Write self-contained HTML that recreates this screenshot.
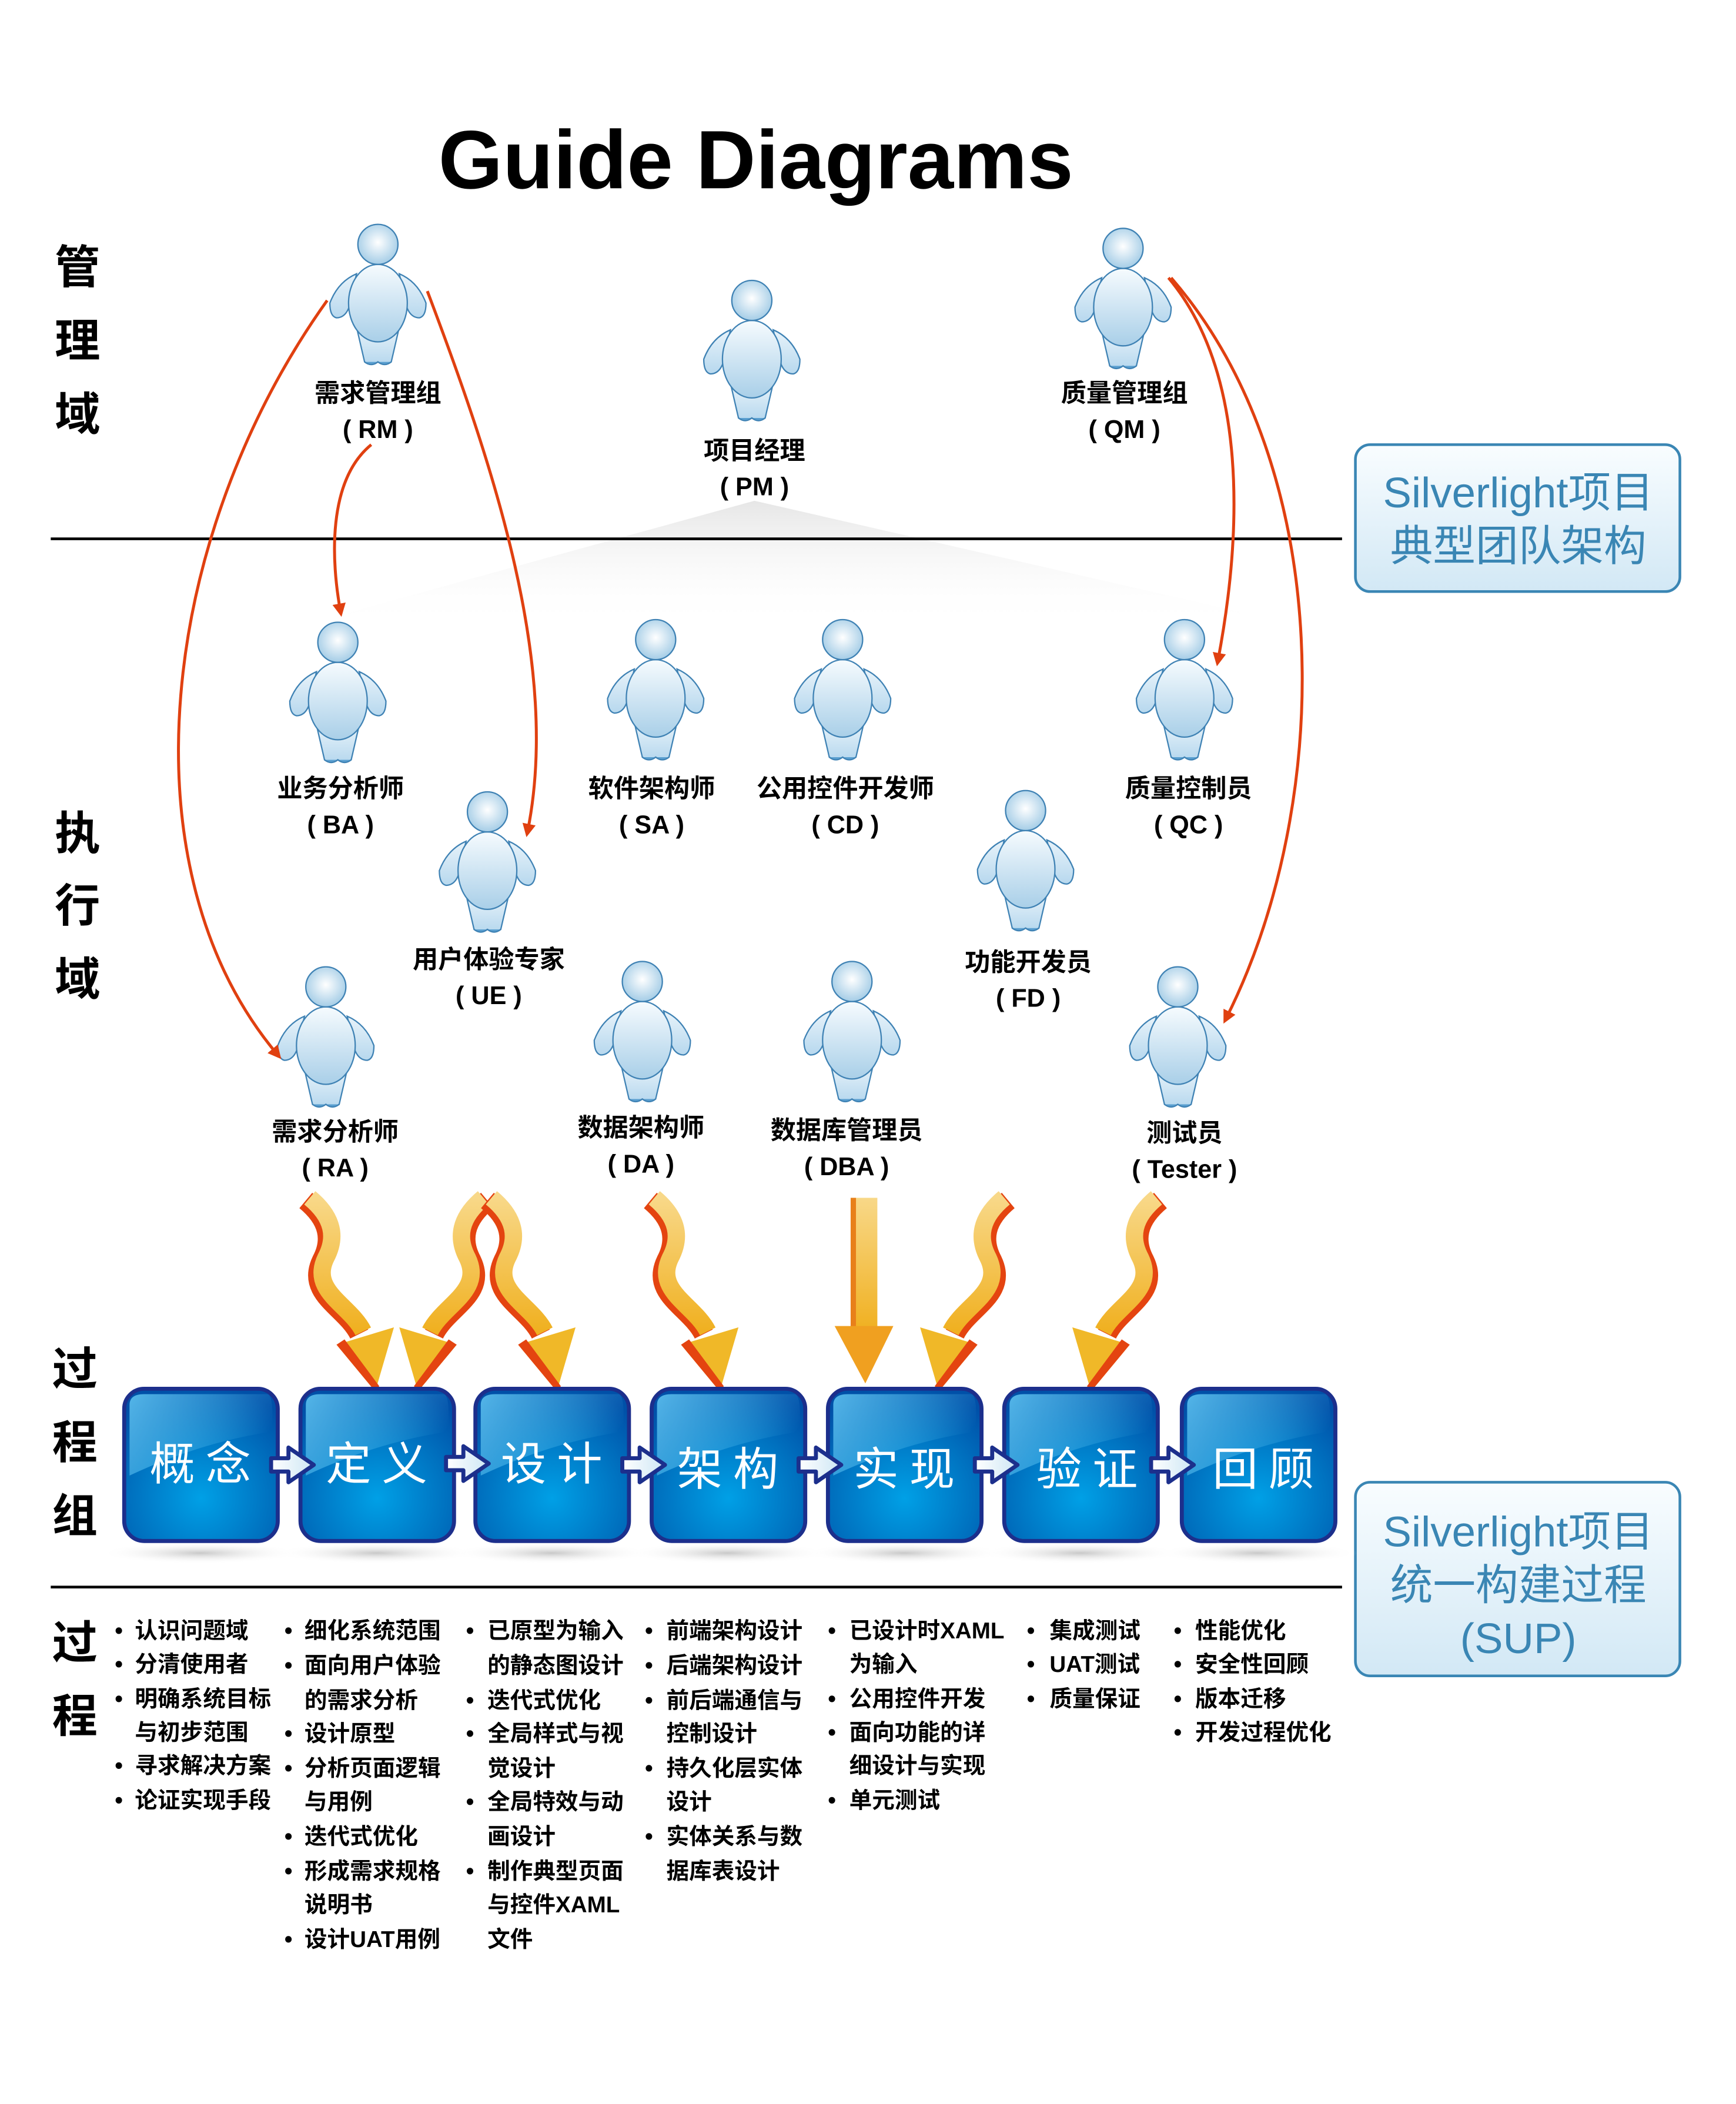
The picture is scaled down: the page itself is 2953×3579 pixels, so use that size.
<!DOCTYPE html>
<html><head><meta charset="utf-8"><style>
html,body{margin:0;padding:0;background:#fff}
svg{display:block}
text{font-family:"Liberation Sans","Noto Sans CJK SC",sans-serif}
</style></head><body>
<svg width="2953" height="3579" viewBox="0 0 1300 1575.6" xmlns="http://www.w3.org/2000/svg">
<defs>
<radialGradient id="hg" cx="0.5" cy="0.45" r="0.6"><stop offset="0" stop-color="#ffffff"/><stop offset="1" stop-color="#9cc8e4"/></radialGradient>
<linearGradient id="bg" x1="0" y1="0" x2="0" y2="1"><stop offset="0" stop-color="#f6fbfe"/><stop offset="1" stop-color="#a9cfe8"/></linearGradient>
<linearGradient id="ag" x1="0" y1="0" x2="0" y2="1"><stop offset="0" stop-color="#e8f3fa"/><stop offset="1" stop-color="#b7d8ee"/></linearGradient>
<linearGradient id="box" x1="0" y1="0" x2="0" y2="1"><stop offset="0" stop-color="#f9fdff"/><stop offset="1" stop-color="#d2e8f5"/></linearGradient>
<radialGradient id="pb" cx="0.5" cy="0.72" r="0.75"><stop offset="0" stop-color="#00a0e6"/><stop offset="0.6" stop-color="#0072c0"/><stop offset="1" stop-color="#0050a8"/></radialGradient>
<linearGradient id="pt" x1="0" y1="0" x2="1" y2="0.4"><stop offset="0" stop-color="#62c8f4"/><stop offset="1" stop-color="#62c8f4" stop-opacity="0"/></linearGradient>
<linearGradient id="og" x1="0" y1="0" x2="0" y2="1"><stop offset="0" stop-color="#f8d888"/><stop offset="1" stop-color="#f0b020"/></linearGradient>
<linearGradient id="sa" x1="0" y1="0" x2="1" y2="0"><stop offset="0" stop-color="#ffffff"/><stop offset="1" stop-color="#cde6f4"/></linearGradient>
<radialGradient id="sh" cx="0.5" cy="0.5" r="0.5"><stop offset="0" stop-color="#c8c8c8"/><stop offset="1" stop-color="#fff" stop-opacity="0"/></radialGradient>
<linearGradient id="fan" x1="0" y1="0" x2="0" y2="1"><stop offset="0" stop-color="#e6e6e6"/><stop offset="1" stop-color="#fff" stop-opacity="0"/></linearGradient>
<g id="p" stroke="#3f82b4" stroke-width="1">
<path d="M-16,62 L-10,88 Q-5,91 0,88 Q5,91 10,88 L16,62 Z" fill="url(#ag)"/>
<path d="M-10,88 Q-5,92 0,88 Q5,92 10,88" fill="#5a9fd0"/>
<path d="M-16,22 Q-30,28 -36,44 Q-36,54 -31,55 Q-25,55 -22,48 Z" fill="url(#ag)"/>
<path d="M16,22 Q30,28 36,44 Q36,54 31,55 Q25,55 22,48 Z" fill="url(#ag)"/>
<ellipse cx="0" cy="44" rx="22" ry="29" fill="url(#bg)"/>
<circle cx="0" cy="0" r="15" fill="url(#hg)"/>
</g>
<marker id="ar" markerWidth="10" markerHeight="10" refX="6" refY="5" orient="auto" markerUnits="userSpaceOnUse"><path d="M0,0 L10,5 L0,10 Z" fill="#e04010"/></marker>
<g id="oR">
<path d="M0,0 C18,15 20,30 12,45 C0,70 30,80 40,100" fill="none" stroke="#e44410" stroke-width="15" transform="translate(-3,2)"/>
<path d="M0,0 C18,15 20,30 12,45 C0,70 30,80 40,100" fill="none" stroke="url(#og)" stroke-width="13"/>
<polygon points="20,110 63,97 49,145" fill="#f0b828"/>
<polygon points="20,110 26,106 52,141 49,145" fill="#e44410"/>
</g>
</defs>

<text x="566" y="141" font-size="62" font-weight="bold" text-anchor="middle">Guide Diagrams</text>

<g font-size="34" font-weight="bold" text-anchor="middle">
<text x="58" y="212">管</text><text x="58" y="267">理</text><text x="58" y="322">域</text>
<text x="58" y="636">执</text><text x="58" y="690">行</text><text x="58" y="745">域</text>
<text x="56" y="1037">过</text><text x="56" y="1092">程</text><text x="56" y="1147">组</text>
<text x="56" y="1242">过</text><text x="56" y="1297">程</text>
</g>

<polygon points="565,375 220,470 980,470" fill="url(#fan)"/>
<line x1="38" y1="403.5" x2="1005" y2="403.5" stroke="#000" stroke-width="2"/>
<line x1="38" y1="1188.5" x2="1005" y2="1188.5" stroke="#000" stroke-width="2"/>

<rect x="1015" y="333" width="243" height="110" rx="11" fill="url(#box)" stroke="#3a86b4" stroke-width="2"/>
<text x="1137" y="380" font-size="32" fill="#3a86b4" text-anchor="middle">Silverlight项目</text>
<text x="1137" y="420" font-size="32" fill="#3a86b4" text-anchor="middle">典型团队架构</text>
<rect x="1015" y="1110" width="243" height="145" rx="11" fill="url(#box)" stroke="#3a86b4" stroke-width="2"/>
<text x="1137" y="1158" font-size="32" fill="#3a86b4" text-anchor="middle">Silverlight项目</text>
<text x="1137" y="1198" font-size="32" fill="#3a86b4" text-anchor="middle">统一构建过程</text>
<text x="1137" y="1238" font-size="32" fill="#3a86b4" text-anchor="middle">(SUP)</text>

<use href="#p" x="283" y="183"/><use href="#p" x="563" y="225"/><use href="#p" x="841" y="186"/>
<use href="#p" x="253" y="481"/><use href="#p" x="491" y="479"/><use href="#p" x="631" y="479"/><use href="#p" x="887" y="479"/>
<use href="#p" x="365" y="608"/><use href="#p" x="768" y="607"/>
<use href="#p" x="244" y="739"/><use href="#p" x="481" y="735"/><use href="#p" x="638" y="735"/><use href="#p" x="882" y="739"/>

<g font-size="19" font-weight="bold" text-anchor="middle">
<text x="283" y="301">需求管理组</text><text x="283" y="328">( RM )</text>
<text x="565" y="344">项目经理</text><text x="565" y="371">( PM )</text>
<text x="842" y="301">质量管理组</text><text x="842" y="328">( QM )</text>
<text x="255" y="597">业务分析师</text><text x="255" y="624">( BA )</text>
<text x="488" y="597">软件架构师</text><text x="488" y="624">( SA )</text>
<text x="633" y="597">公用控件开发师</text><text x="633" y="624">( CD )</text>
<text x="890" y="597">质量控制员</text><text x="890" y="624">( QC )</text>
<text x="366" y="725">用户体验专家</text><text x="366" y="752">( UE )</text>
<text x="770" y="727">功能开发员</text><text x="770" y="754">( FD )</text>
<text x="251" y="854">需求分析师</text><text x="251" y="881">( RA )</text>
<text x="480" y="851">数据架构师</text><text x="480" y="878">( DA )</text>
<text x="634" y="853">数据库管理员</text><text x="634" y="880">( DBA )</text>
<text x="887" y="855">测试员</text><text x="887" y="882">( Tester )</text>
</g>

<g fill="none" stroke="#e04010" stroke-width="2.2" marker-end="url(#ar)">
<path d="M245,225 C120,400 90,650 208,790"/>
<path d="M320,218 C370,350 420,500 395,623"/>
<path d="M278,333 C245,360 248,420 255,458"/>
<path d="M875,208 C935,280 930,400 912,495"/>
<path d="M877,208 C1000,350 1000,600 918,763"/>
</g>

<use href="#oR" x="232" y="897"/>
<use href="#oR" transform="translate(362,897) scale(-1,1)"/>
<use href="#oR" x="368" y="897"/>
<use href="#oR" x="490" y="897"/>
<use href="#oR" transform="translate(752,897) scale(-1,1)"/>
<use href="#oR" transform="translate(866,897) scale(-1,1)"/>
<rect x="637" y="897" width="20" height="100" fill="url(#og)"/>
<rect x="637" y="897" width="4" height="100" fill="#e8801a"/>
<polygon points="625,993 669,993 648,1036" fill="#f0a020"/>

<g>
<ellipse cx="150" cy="1163" rx="75" ry="8" fill="url(#sh)"/>
<ellipse cx="282" cy="1163" rx="75" ry="8" fill="url(#sh)"/>
<ellipse cx="413" cy="1163" rx="75" ry="8" fill="url(#sh)"/>
<ellipse cx="545" cy="1163" rx="75" ry="8" fill="url(#sh)"/>
<ellipse cx="677" cy="1163" rx="75" ry="8" fill="url(#sh)"/>
<ellipse cx="809" cy="1163" rx="75" ry="8" fill="url(#sh)"/>
<ellipse cx="942" cy="1163" rx="75" ry="8" fill="url(#sh)"/>
</g>
<g stroke="#1c2f8c" stroke-width="3">
<rect x="93" y="1040" width="115" height="114" rx="15" fill="url(#pb)"/>
<rect x="225" y="1040" width="115" height="114" rx="15" fill="url(#pb)"/>
<rect x="356" y="1040" width="115" height="114" rx="15" fill="url(#pb)"/>
<rect x="488" y="1040" width="115" height="114" rx="15" fill="url(#pb)"/>
<rect x="620" y="1040" width="115" height="114" rx="15" fill="url(#pb)"/>
<rect x="752" y="1040" width="115" height="114" rx="15" fill="url(#pb)"/>
<rect x="885" y="1040" width="115" height="114" rx="15" fill="url(#pb)"/>
</g>
<g fill="url(#pt)" opacity="0.85">
<path d="M97,1052 Q97,1044 108,1044 L200,1044 Q204,1044 204,1060 L204,1072 Q150,1080 97,1105 Z"/>
<path d="M229,1052 Q229,1044 240,1044 L332,1044 Q336,1044 336,1060 L336,1072 Q282,1080 229,1105 Z"/>
<path d="M360,1052 Q360,1044 371,1044 L463,1044 Q467,1044 467,1060 L467,1072 Q413,1080 360,1105 Z"/>
<path d="M492,1052 Q492,1044 503,1044 L595,1044 Q599,1044 599,1060 L599,1072 Q545,1080 492,1105 Z"/>
<path d="M624,1052 Q624,1044 635,1044 L727,1044 Q731,1044 731,1060 L731,1072 Q677,1080 624,1105 Z"/>
<path d="M756,1052 Q756,1044 767,1044 L859,1044 Q863,1044 863,1060 L863,1072 Q809,1080 756,1105 Z"/>
<path d="M889,1052 Q889,1044 900,1044 L992,1044 Q996,1044 996,1060 L996,1072 Q942,1080 889,1105 Z"/>
</g>
<g font-size="34" fill="#fff" text-anchor="middle" letter-spacing="8">
<text x="154" y="1108">概念</text><text x="286" y="1108">定义</text><text x="417" y="1108">设计</text>
<text x="549" y="1112">架构</text><text x="681" y="1112">实现</text><text x="818" y="1112">验证</text><text x="950" y="1112">回顾</text>
</g>
<g fill="url(#sa)" stroke="#1c2f8c" stroke-width="3" stroke-linejoin="round">
<path d="M0,-5 L13,-5 L13,-13 L32,0 L13,13 L13,5 L0,5 Z" transform="translate(203,1097)"/>
<path d="M0,-5 L13,-5 L13,-13 L32,0 L13,13 L13,5 L0,5 Z" transform="translate(334,1096)"/>
<path d="M0,-5 L13,-5 L13,-13 L32,0 L13,13 L13,5 L0,5 Z" transform="translate(466,1097)"/>
<path d="M0,-5 L13,-5 L13,-13 L32,0 L13,13 L13,5 L0,5 Z" transform="translate(598,1097)"/>
<path d="M0,-5 L13,-5 L13,-13 L32,0 L13,13 L13,5 L0,5 Z" transform="translate(730,1097)"/>
<path d="M0,-5 L13,-5 L13,-13 L32,0 L13,13 L13,5 L0,5 Z" transform="translate(862,1097)"/>
</g>

<g font-size="17" font-weight="bold">
<g>
<text x="86" y="1227">•</text><text x="101" y="1227">认识问题域</text>
<text x="86" y="1252">•</text><text x="101" y="1252">分清使用者</text>
<text x="86" y="1278">•</text><text x="101" y="1278">明确系统目标</text>
<text x="101" y="1303">与初步范围</text>
<text x="86" y="1328">•</text><text x="101" y="1328">寻求解决方案</text>
<text x="86" y="1354">•</text><text x="101" y="1354">论证实现手段</text>
</g>
<g>
<text x="213" y="1227">•</text><text x="228" y="1227">细化系统范围</text>
<text x="213" y="1253">•</text><text x="228" y="1253">面向用户体验</text>
<text x="228" y="1279">的需求分析</text>
<text x="213" y="1304">•</text><text x="228" y="1304">设计原型</text>
<text x="213" y="1330">•</text><text x="228" y="1330">分析页面逻辑</text>
<text x="228" y="1355">与用例</text>
<text x="213" y="1381">•</text><text x="228" y="1381">迭代式优化</text>
<text x="213" y="1407">•</text><text x="228" y="1407">形成需求规格</text>
<text x="228" y="1432">说明书</text>
<text x="213" y="1458">•</text><text x="228" y="1458">设计UAT用例</text>
</g>
<g>
<text x="349" y="1227">•</text><text x="365" y="1227">已原型为输入</text>
<text x="365" y="1253">的静态图设计</text>
<text x="349" y="1279">•</text><text x="365" y="1279">迭代式优化</text>
<text x="349" y="1304">•</text><text x="365" y="1304">全局样式与视</text>
<text x="365" y="1330">觉设计</text>
<text x="349" y="1355">•</text><text x="365" y="1355">全局特效与动</text>
<text x="365" y="1381">画设计</text>
<text x="349" y="1407">•</text><text x="365" y="1407">制作典型页面</text>
<text x="365" y="1432">与控件XAML</text>
<text x="365" y="1458">文件</text>
</g>
<g>
<text x="483" y="1227">•</text><text x="499" y="1227">前端架构设计</text>
<text x="483" y="1253">•</text><text x="499" y="1253">后端架构设计</text>
<text x="483" y="1279">•</text><text x="499" y="1279">前后端通信与</text>
<text x="499" y="1304">控制设计</text>
<text x="483" y="1330">•</text><text x="499" y="1330">持久化层实体</text>
<text x="499" y="1355">设计</text>
<text x="483" y="1381">•</text><text x="499" y="1381">实体关系与数</text>
<text x="499" y="1407">据库表设计</text>
</g>
<g>
<text x="620" y="1227">•</text><text x="636" y="1227">已设计时XAML</text>
<text x="636" y="1252">为输入</text>
<text x="620" y="1278">•</text><text x="636" y="1278">公用控件开发</text>
<text x="620" y="1303">•</text><text x="636" y="1303">面向功能的详</text>
<text x="636" y="1328">细设计与实现</text>
<text x="620" y="1354">•</text><text x="636" y="1354">单元测试</text>
</g>
<g>
<text x="769" y="1227">•</text><text x="786" y="1227">集成测试</text>
<text x="769" y="1252">•</text><text x="786" y="1252">UAT测试</text>
<text x="769" y="1278">•</text><text x="786" y="1278">质量保证</text>
</g>
<g>
<text x="879" y="1227">•</text><text x="895" y="1227">性能优化</text>
<text x="879" y="1252">•</text><text x="895" y="1252">安全性回顾</text>
<text x="879" y="1278">•</text><text x="895" y="1278">版本迁移</text>
<text x="879" y="1303">•</text><text x="895" y="1303">开发过程优化</text>
</g>
</g>
</svg>
</body></html>
